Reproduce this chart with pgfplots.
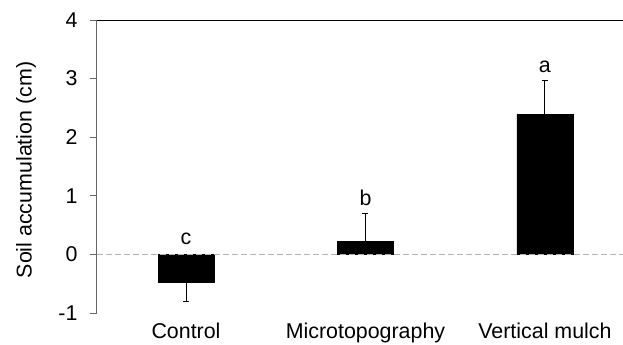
\documentclass[border=0pt]{standalone}
\usepackage{fontspec}
\setmainfont{Liberation Sans}
\usepackage{pgfplots}
\pgfplotsset{compat=1.18}
\begin{document}
\fontsize{10.7}{13}\selectfont
\begin{tikzpicture}
\begin{axis}[
  scale only axis, width=263pt, height=146.5pt,
  at={(0,0)}, anchor=south west,
  xmin=0.504, xmax=3.435, ymin=-1, ymax=4,
  axis lines*=left,
  x axis line style={draw=none},
  y axis line style={gray!80!black, line width=0.5pt},
  xtick={1,2,3},
  xticklabels={Control,Microtopography,Vertical mulch},
  xtick style={draw=none},
  ytick={-1,0,1,2,3,4},
  yticklabels={-1,0,1,2,3,4},
  ytick style={gray!80!black, line width=0.5pt},
  tick align=outside, major tick length=3.5pt,
  /pgf/number format/assume math mode=true,
  ticklabel style={font=\fontsize{10.7}{13}\selectfont, text=black},
  xticklabel style={yshift=2.2pt},
  yticklabel style={xshift=-2.5pt},
  every axis y label/.style={at={(axis description cs:-0.135,0.488)}, rotate=90, anchor=center, font=\fontsize{10.7}{13}\selectfont},
  ylabel={Soil accumulation (cm)},
  clip=false,
]
\addplot[ybar, bar width=28pt, fill=black, draw=black,
  error bars/.cd, y dir=both, y explicit,
  error bar style={black, line width=0.5pt},
  error mark options={rotate=90, mark size=1.5pt, black, line width=0.5pt}]
  coordinates {
    (1,-0.48) += (0,0) -= (0,0.33)
    (2,0.22) += (0,0.48) -= (0,0)
    (3,2.39) += (0,0.58) -= (0,0)
  };
\addplot[gray!60, line width=0.6pt, dash pattern=on 3pt off 1.5pt] coordinates {(0.504,0) (3.435,0)};
\addplot[draw=none, mark=none, nodes near coords, point meta=explicit symbolic,
  every node near coord/.style={anchor=center, font=\fontsize{10.7}{13}\selectfont, text=black}]
  coordinates {(1,0.27)[c] (2,0.97)[b] (3,3.2)[a]};
\draw[black, line width=0.5pt] (rel axis cs:0,1) -- (rel axis cs:1,1);
\end{axis}
\pgfresetboundingbox
\useasboundingbox (-48.5pt,-15.5pt) rectangle (263pt,156.5pt);
\end{tikzpicture}
\end{document}
